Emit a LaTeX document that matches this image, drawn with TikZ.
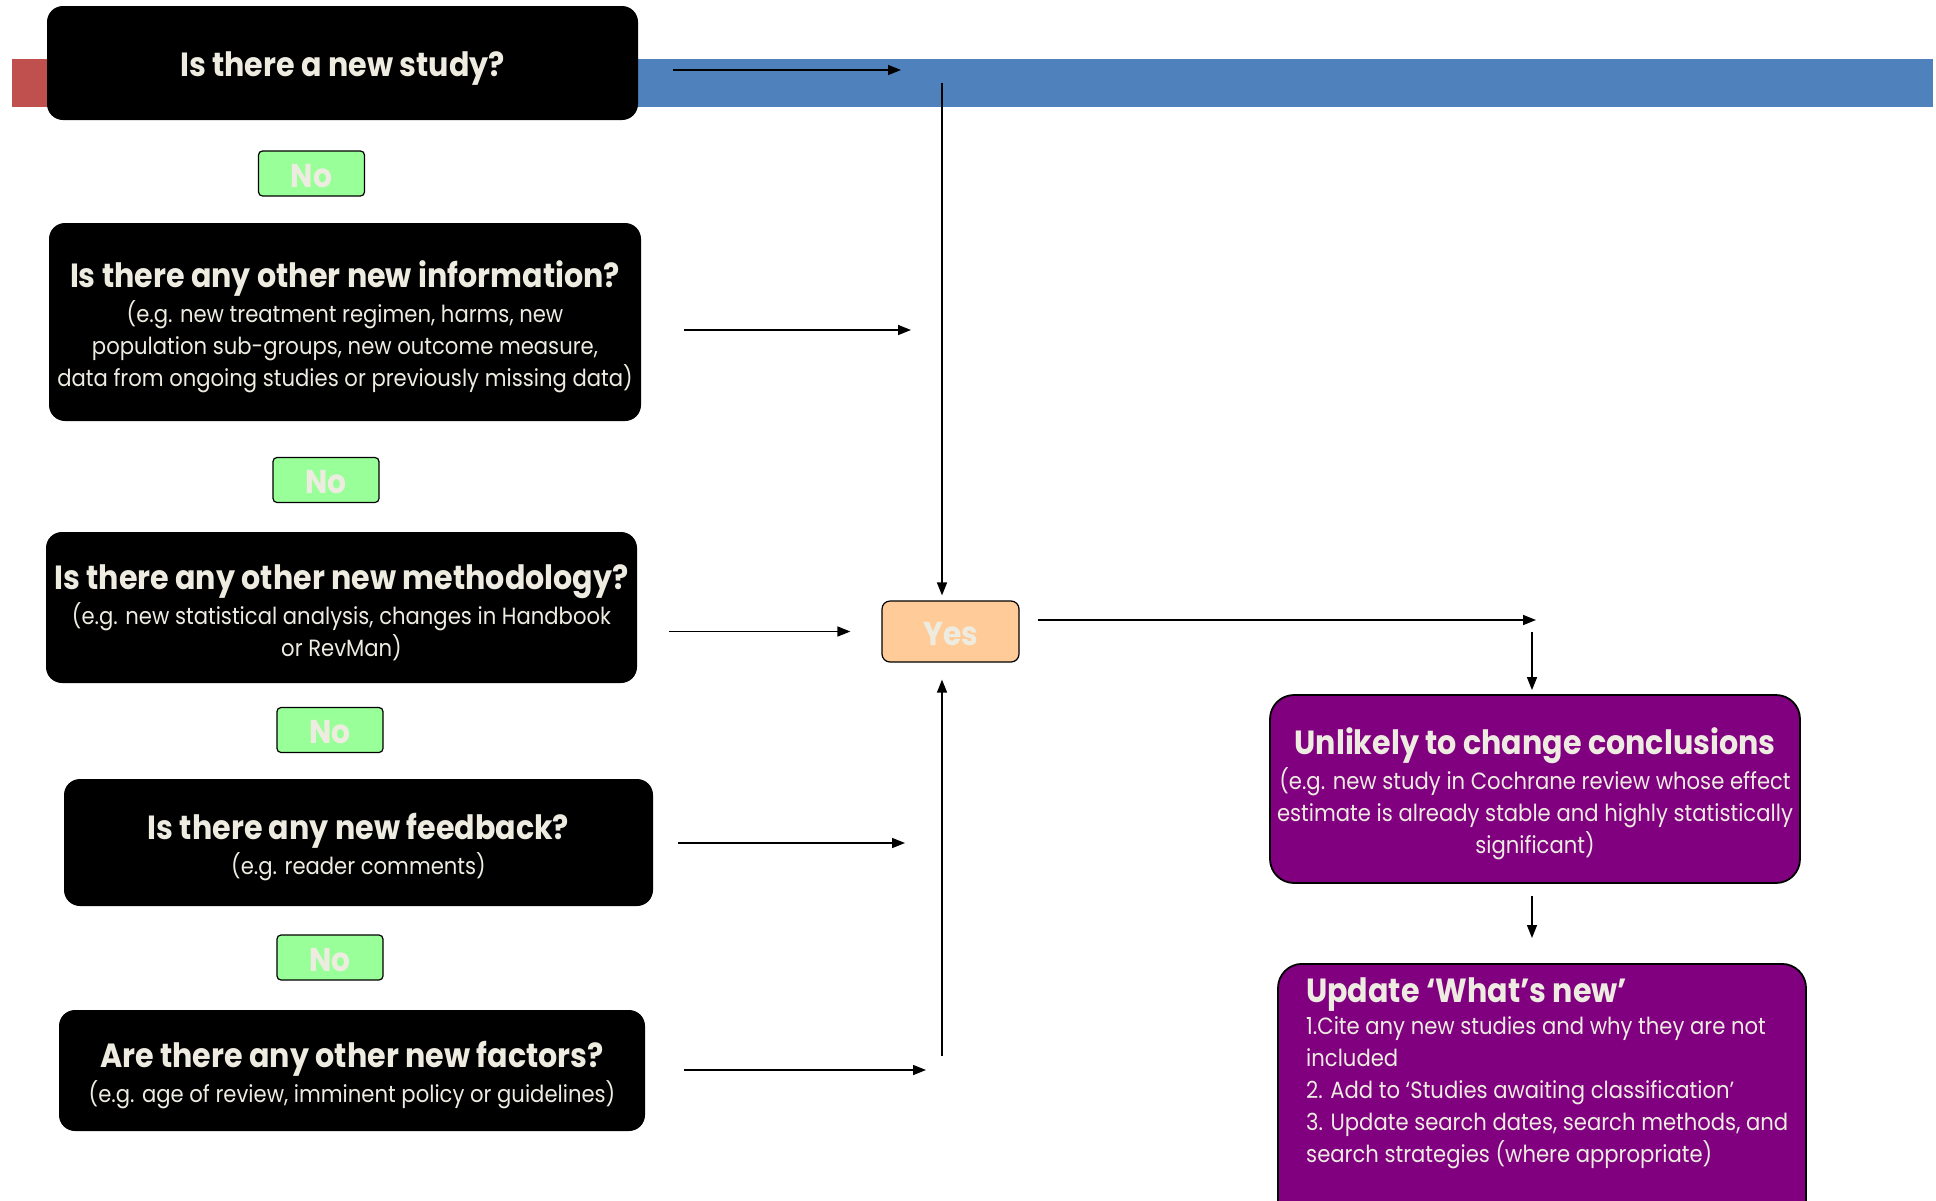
\documentclass[tikz,border=0pt]{standalone}
\usepackage{fontspec}
\setmainfont{Poppins}[FakeStretch=0.9]
\usetikzlibrary{arrows.meta}

\definecolor{paper}{HTML}{EEECE1}
\definecolor{nogreen}{HTML}{99FF99}
\definecolor{peach}{HTML}{FFCC99}
\definecolor{deeppurple}{HTML}{800080}
\definecolor{barblue}{HTML}{4F81BD}
\definecolor{barred}{HTML}{C0504D}

\newcommand{\qhead}[1]{{\fontsize{33.5}{36}\selectfont\bfseries #1}}
\newcommand{\qtitle}[1]{\qhead{\rule{0pt}{36pt}#1}}

\begin{document}
\begin{tikzpicture}[x=1pt, y=-1pt,
  qbox/.style={fill=black, rounded corners=16pt, text=paper, align=center,
    inner sep=0pt, font=\fontsize{23.5}{32}\selectfont},
  nobox/.style={draw=black, line width=1.2pt, fill=nogreen, rounded corners=4pt,
    text=paper, font=\fontsize{33}{36}\selectfont\bfseries, text height=28pt,
    minimum width=106pt, minimum height=45pt, inner sep=0pt},
  yesbox/.style={nobox, fill=peach, rounded corners=8pt,
    minimum width=137pt, minimum height=61pt},
  outbox/.style={draw=black, line width=1.8pt, fill=deeppurple, rounded corners=24pt,
    text=paper, align=center, inner sep=0pt, font=\fontsize{23.5}{32}\selectfont},
  arr/.style={line width=1.5pt, -{Triangle[length=13pt,width=10pt]}}]

% page and the bars behind the first question
\useasboundingbox (0,0) rectangle (1936,1200);
\fill[white] (0,0) rectangle (1936,1200);
\fill[barred] (12,59) rectangle (80,107);
\fill[barblue] (600,59) rectangle (1933,107);

% questions
\node[qbox, minimum width=591pt, minimum height=114pt] (q1) at (342.5,63)
  {\qtitle{Is there a new study?}};
\node[qbox, minimum width=592pt, minimum height=198pt] (q2) at (345,322)
  {\qtitle{Is there any other new information?}\\[3pt]
   (e.g. new treatment regimen, harms, new\\
   population sub-groups, new outcome measure,\\
   data from ongoing studies or previously missing data)};
\node[qbox, minimum width=591pt, minimum height=151pt] (q3) at (341.5,607.5)
  {\qtitle{Is there any other new methodology?}\\[3pt]
   (e.g. new statistical analysis, changes in Handbook\\
   or RevMan)};
\node[qbox, minimum width=589pt, minimum height=127pt] (q4) at (358.5,842.5)
  {\qtitle{Is there any new feedback?}\\[3pt]
   (e.g. reader comments)};
\node[qbox, minimum width=586pt, minimum height=121pt] (q5) at (352,1070.5)
  {\qtitle{Are there any other new factors?}\\[3pt]
   (e.g. age of review, imminent policy or guidelines)};

% answers
\node[nobox] (no1) at (311.5,173.5) {No};
\node[nobox] (no2) at (326,480) {No};
\node[nobox] (no3) at (330,730) {No};
\node[nobox] (no4) at (330,957.5) {No};
\node[yesbox] (yes) at (950.5,631.5) {Yes};

% outcome
\node[outbox, minimum width=530pt, minimum height=188pt] (out1) at (1535,789)
  {\qtitle{Unlikely to change conclusions}\\[3pt]
   (e.g. new study in Cochrane review whose effect\\
   estimate is already stable and highly statistically\\
   significant)};
\node[outbox, minimum width=528pt, minimum height=262pt, anchor=north] (out2) at (1542,963) {};
\node[text=paper, align=left, inner sep=0pt, anchor=north west,
  font=\fontsize{23.5}{32}\selectfont] (out2txt) at (1306,977)
  {\qhead{Update ‘What’s new’}\\[0pt]
   1.Cite any new studies and why they are not\\
   included\\
   2. Add to ‘Studies awaiting classification’\\
   3. Update search dates, search methods, and\\
   search strategies (where appropriate)};

% connectors
\coordinate (e1) at (901,70);
\draw[arr, shorten <=35pt] (q1.east |- e1) -- (e1);
\coordinate (vtop) at (942,83);
\draw[arr, shorten >=5pt] (vtop) -- (vtop |- yes.north);
\coordinate (e2) at (911,330);
\draw[arr, shorten <=43pt] (q2.east |- e2) -- (e2);
\draw[arr, shorten <=32pt, shorten >=31pt] (q3.east |- yes.west) -- (yes.west);
\coordinate (e4) at (905,843);
\draw[arr, shorten <=25pt] (q4.east |- e4) -- (e4);
\coordinate (e5) at (926,1070);
\draw[arr, shorten <=39pt] (q5.east |- e5) -- (e5);
\coordinate (vbot) at (942,1056);
\draw[arr, shorten >=17pt] (vbot) -- (vbot |- yes.south);

\coordinate (e6) at (1536,620);
\draw[arr, shorten <=18pt] (yes.east |- e6) -- (e6);
\coordinate (s7) at (1532,632);
\draw[arr, shorten >=4pt] (s7) -- (s7 |- out1.north);
\coordinate (e8) at (1532,938);
\draw[arr, shorten <=12pt] (e8 |- out1.south) -- (e8);

\end{tikzpicture}
\end{document}
